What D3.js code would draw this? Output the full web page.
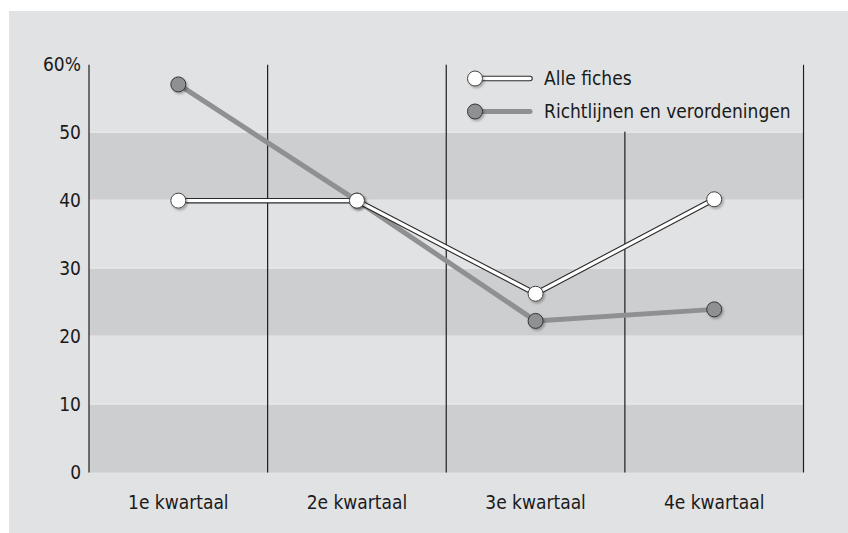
<!DOCTYPE html>
<html>
<head>
<meta charset="utf-8">
<script src="https://cdn.jsdelivr.net/npm/d3@7/dist/d3.min.js"></script>
<style>
  html, body { margin: 0; padding: 0; background: #ffffff; }
  svg { display: block; }
  text { font-family: "DejaVu Sans Condensed", "Liberation Sans", sans-serif; fill: #1a1a1a; }
</style>
</head>
<body>
<svg id="chart" width="848" height="533"></svg>
<script>
// ---- data ----
const categories = ["1e kwartaal", "2e kwartaal", "3e kwartaal", "4e kwartaal"];
const alleFiches = [40.0, 40.0, 26.3, 40.2];
const richtlijnen = [57.1, 40.0, 22.3, 24.0];
const seriesNames = ["Alle fiches", "Richtlijnen en verordeningen"];
const yTicks = [0, 10, 20, 30, 40, 50, 60];
const darkBands = [[0, 10], [20, 30], [40, 50]];

(function () {
// ---- layout ----
const W = 848, H = 533;
const pLeft = 89, pRight = 803.5, pTop = 64.7, pBottom = 472.5;
const fontSize = 19;

const svg = d3.select("#chart");
const defs = svg.append("defs");
const f = defs.append("filter").attr("id", "shadow").attr("x", "-50%").attr("y", "-50%").attr("width", "200%").attr("height", "200%");
f.append("feDropShadow").attr("dx", 1.5).attr("dy", 1.8).attr("stdDeviation", 1).attr("flood-color", "#000").attr("flood-opacity", 0.28);

// panel
svg.append("rect").attr("x", 9).attr("y", 11).attr("width", W - 9).attr("height", H - 11).attr("fill", "#e1e2e4");

const x = d3.scaleBand().domain(categories).range([pLeft, pRight]).paddingInner(0).paddingOuter(0);
const y = d3.scaleLinear().domain([0, 60]).range([pBottom, pTop]);

// bands
svg.append("g").selectAll("rect").data(darkBands).join("rect")
  .attr("x", pLeft).attr("width", pRight - pLeft)
  .attr("y", d => y(d[1])).attr("height", d => y(d[0]) - y(d[1]))
  .attr("fill", "#cdced0");
// subtle light separators between bands
svg.append("g").selectAll("line").data(yTicks.filter(t => t > 0 && t < 60)).join("line")
  .attr("x1", pLeft).attr("x2", pRight)
  .attr("y1", d => y(d) - 0.5).attr("y2", d => y(d) - 0.5)
  .attr("stroke", "#ececee").attr("stroke-width", 1);

// vertical separators at band boundaries
const bounds = categories.map(c => x(c)).concat([x(categories[categories.length - 1]) + x.bandwidth()]);
svg.append("g").selectAll("line").data(bounds).join("line")
  .attr("x1", d => d).attr("x2", d => d)
  .attr("y1", y(60)).attr("y2", y(0))
  .attr("stroke", "#1e1e1e").attr("stroke-width", 1.2);

// legend background (covers separator in legend area)
const legX0 = x(categories[2]) + 1.2, legX1 = pRight - 1;
svg.append("rect").attr("x", legX0).attr("y", y(60) - 1).attr("width", legX1 - legX0).attr("height", y(50) - y(60))
  .attr("fill", "#e1e2e4");

// axes
const yAxis = d3.axisLeft(y).tickValues(yTicks).tickSize(0).tickPadding(8)
  .tickFormat(d => d === 60 ? "60%" : String(d));
const gy = svg.append("g").attr("transform", `translate(${pLeft},0)`).call(yAxis);
gy.select(".domain").remove();
gy.selectAll("text").attr("font-size", fontSize).attr("fill", "#1a1a1a");
gy.attr("font-family", null);

const xAxis = d3.axisBottom(x).tickSize(0).tickPadding(23);
const gx = svg.append("g").attr("transform", `translate(0,${pBottom})`).call(xAxis);
gx.select(".domain").remove();
gx.selectAll("text").attr("font-size", fontSize).attr("fill", "#1a1a1a");
gx.attr("font-family", null);

const cx = c => x(c) + x.bandwidth() / 2;
const line = d3.line().x((d, i) => cx(categories[i])).y(d => y(d));

const grayFill = "#8f9092";
const r = 7.5;

// gray series
svg.append("path").attr("d", line(richtlijnen)).attr("fill", "none")
  .attr("stroke", grayFill).attr("stroke-width", 5).attr("stroke-linejoin", "round");
svg.append("g").selectAll("circle").data(richtlijnen).join("circle")
  .attr("cx", (d, i) => cx(categories[i])).attr("cy", d => y(d)).attr("r", r)
  .attr("fill", grayFill).attr("stroke", "#333").attr("stroke-width", 1).attr("filter", "url(#shadow)");

// white series (double line)
svg.append("path").attr("d", line(alleFiches)).attr("fill", "none")
  .attr("stroke", "#2a2a2a").attr("stroke-width", 5.5).attr("stroke-linejoin", "round");
svg.append("path").attr("d", line(alleFiches)).attr("fill", "none")
  .attr("stroke", "#ffffff").attr("stroke-width", 3.3).attr("stroke-linejoin", "round");
svg.append("g").selectAll("circle").data(alleFiches).join("circle")
  .attr("cx", (d, i) => cx(categories[i])).attr("cy", d => y(d)).attr("r", r)
  .attr("fill", "#ffffff").attr("stroke", "#444").attr("stroke-width", 1).attr("filter", "url(#shadow)");

// legend
const lx = 475, lEnd = 530, ly = [78.5, 111.5];
svg.append("line").attr("x1", lx).attr("x2", lEnd).attr("y1", ly[0]).attr("y2", ly[0])
  .attr("stroke", "#2a2a2a").attr("stroke-width", 5.5).attr("stroke-linecap", "round");
svg.append("line").attr("x1", lx).attr("x2", lEnd).attr("y1", ly[0]).attr("y2", ly[0])
  .attr("stroke", "#fff").attr("stroke-width", 3.3).attr("stroke-linecap", "round");
svg.append("circle").attr("cx", lx).attr("cy", ly[0]).attr("r", r)
  .attr("fill", "#fff").attr("stroke", "#444").attr("stroke-width", 1).attr("filter", "url(#shadow)");
svg.append("line").attr("x1", lx).attr("x2", lEnd).attr("y1", ly[1]).attr("y2", ly[1])
  .attr("stroke", grayFill).attr("stroke-width", 5).attr("stroke-linecap", "round");
svg.append("circle").attr("cx", lx).attr("cy", ly[1]).attr("r", r)
  .attr("fill", grayFill).attr("stroke", "#333").attr("stroke-width", 1).attr("filter", "url(#shadow)");

svg.append("g").selectAll("text").data(seriesNames).join("text")
  .attr("x", 544).attr("y", (d, i) => ly[i]).attr("dy", "0.35em")
  .attr("font-size", fontSize).text(d => d);
})();
</script>
</body>
</html>
